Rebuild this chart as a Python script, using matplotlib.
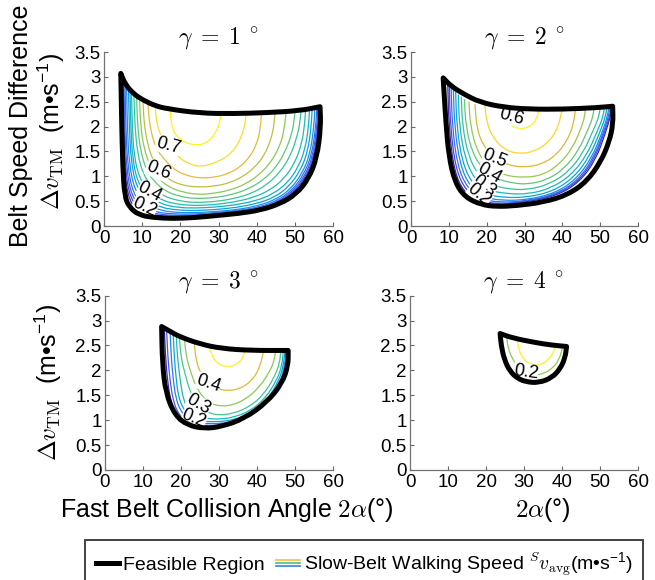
import numpy as np
import matplotlib
matplotlib.use('Agg')
import matplotlib.pyplot as plt
from matplotlib.path import Path
from matplotlib.patches import PathPatch
from matplotlib.colors import LinearSegmentedColormap, Normalize
from matplotlib.lines import Line2D
from matplotlib.legend_handler import HandlerBase

plt.rcParams['font.family'] = ['Liberation Sans', 'DejaVu Sans']
plt.rcParams['mathtext.fontset'] = 'cm'

# ---------------- data ----------------
# gamma = 1 deg
p1_top = [(4.4, 3.07), (5.5, 2.86), (7.7, 2.66), (10.3, 2.53), (13.4, 2.42), (16.4, 2.36),
          (25.1, 2.27), (33.8, 2.26), (42.6, 2.28), (51.3, 2.32), (56.6, 2.40)]
p1_low = [(56.6, 2.40), (56.8, 2.0), (55.8, 1.38), (53.6, 0.95), (50.3, 0.64), (46.2, 0.45),
          (41.0, 0.32), (35.0, 0.25), (29.3, 0.21), (24.0, 0.17), (18.0, 0.15), (13.0, 0.17),
          (9.2, 0.22), (6.6, 0.38), (5.4, 0.6), (4.9, 1.2), (4.6, 2.2), (4.4, 3.07)]
p1_levels = [0.05, 0.1, 0.15, 0.2, 0.25, 0.3, 0.35, 0.4, 0.45, 0.5, 0.55, 0.6, 0.65, 0.7, 0.75]
p1_lines = [
    [(4.8, 3.05), (5.0, 2.0), (5.4, 1.05), (6.6, 0.5), (9.4, 0.26), (13, 0.2), (18, 0.17), (24, 0.18), (29, 0.23),
     (35, 0.27), (41, 0.34), (46, 0.47), (49.9, 0.67), (53, 0.96), (55.2, 1.36), (56.2, 2.0), (56.6, 2.45)],
    [(5.0, 3.0), (5.2, 2.0), (5.6, 1.1), (6.9, 0.55), (9.8, 0.29), (13, 0.22), (18, 0.19), (24, 0.2), (29, 0.24),
     (35, 0.28), (41, 0.35), (45.8, 0.48), (49.7, 0.68), (52.8, 0.98), (55, 1.38), (56.0, 2.0), (56.4, 2.45)],
    [(5.2, 3.0), (5.4, 2.0), (5.9, 1.15), (7.2, 0.6), (10.2, 0.33), (13, 0.25), (18, 0.21), (24, 0.22), (29, 0.25),
     (35, 0.29), (41, 0.36), (45.6, 0.49), (49.5, 0.7), (52.6, 1.0), (54.7, 1.4), (55.8, 2.0), (56.1, 2.45)],
    [(5.5, 2.95), (5.7, 2.0), (6.2, 1.2), (7.6, 0.65), (10.6, 0.38), (13.5, 0.28), (18, 0.24), (24, 0.24), (29, 0.27),
     (35, 0.31), (40.7, 0.38), (45.4, 0.51), (49.3, 0.72), (52.3, 1.03), (54.4, 1.42), (55.5, 2.0), (55.8, 2.45)],
    [(5.9, 2.9), (6.1, 2.0), (6.6, 1.25), (8.0, 0.72), (10.95, 0.45), (14, 0.33), (18.5, 0.27), (24, 0.27), (29, 0.29),
     (35, 0.33), (40.5, 0.41), (45.2, 0.54), (49, 0.75), (52, 1.07), (54, 1.45), (55, 2.0), (55.3, 2.45)],
    [(6.4, 2.85), (6.6, 2.0), (7.1, 1.3), (8.4, 0.8), (11.3, 0.53), (14.5, 0.38), (19, 0.32), (24, 0.31), (29, 0.33),
     (34.5, 0.37), (40, 0.45), (44.8, 0.58), (48.5, 0.8), (51.5, 1.12), (53.4, 1.5), (54.3, 2.0), (54.6, 2.45)],
    [(6.8, 2.8), (7.0, 2.0), (7.5, 1.35), (8.8, 0.87), (11.65, 0.6), (15, 0.44), (19.5, 0.37), (24, 0.36), (29, 0.38),
     (34, 0.42), (39.5, 0.5), (44.2, 0.64), (48, 0.86), (50.9, 1.18), (52.7, 1.55), (53.6, 2.0), (53.9, 2.45)],
    [(7.2, 2.75), (7.4, 2.0), (7.9, 1.4), (9.3, 0.95), (12.0, 0.68), (15.5, 0.5), (20, 0.43), (24, 0.41), (29, 0.43),
     (34, 0.48), (39, 0.57), (43.5, 0.72), (47.2, 0.95), (50, 1.27), (51.8, 1.65), (52.6, 2.05), (52.9, 2.45)],
    [(7.8, 2.7), (8.1, 2.0), (8.8, 1.45), (10.3, 1.03), (12.55, 0.79), (15.5, 0.6), (20, 0.5), (24, 0.47), (29, 0.49),
     (34, 0.55), (38.5, 0.65), (42.5, 0.82), (46, 1.07), (48.8, 1.4), (50.6, 1.8), (51.4, 2.1), (51.7, 2.45)],
    [(8.5, 2.65), (8.8, 2.0), (9.6, 1.5), (11.1, 1.12), (13.1, 0.9), (16, 0.7), (20, 0.59), (24, 0.55), (29, 0.57),
     (33.5, 0.63), (38, 0.75), (41.8, 0.93), (45, 1.17), (47.5, 1.5), (49.2, 1.85), (49.9, 2.15), (50.1, 2.45)],
    [(9.3, 2.6), (9.6, 2.0), (10.5, 1.55), (12, 1.22), (13.65, 1.01), (16.5, 0.8), (20.5, 0.68), (25, 0.63), (29, 0.66),
     (33, 0.72), (37, 0.84), (40.5, 1.02), (43.5, 1.26), (45.8, 1.56), (47.2, 1.9), (47.9, 2.45)],
    [(10.2, 2.55), (10.5, 2.05), (11.5, 1.62), (12.8, 1.33), (14.2, 1.12), (17, 0.93), (20.5, 0.82), (24.5, 0.78),
     (29, 0.8), (33, 0.87), (36.5, 1.0), (39.5, 1.18), (42, 1.42), (43.8, 1.75), (44.6, 2.05), (44.9, 2.45)],
    [(11.5, 2.5), (11.9, 2.05), (13, 1.7), (14.2, 1.5), (15.5, 1.37), (18, 1.16), (21, 1.03), (25, 0.96), (29, 0.98),
     (32.5, 1.05), (35.5, 1.18), (38, 1.37), (39.9, 1.62), (41, 1.95), (41.4, 2.45)],
    [(13.3, 2.5), (13.8, 2.05), (15, 1.8), (16.8, 1.62), (19.5, 1.38), (22.5, 1.24), (25.5, 1.19), (29, 1.27),
     (32, 1.38), (34.5, 1.57), (36.2, 1.83), (37.1, 2.1), (37.4, 2.45)],
    [(17.2, 2.45), (17.6, 2.05), (18.5, 1.86), (19.5, 1.78), (21.5, 1.67), (24.3, 1.62), (26.8, 1.67), (28.8, 1.82),
     (30.3, 2.05), (31.1, 2.45)],
]
p1_labels = [('0.7', 16.8, 1.62, -15), ('0.6', 14.2, 1.12, -22), ('0.4', 12.0, 0.68, -28), ('0.2', 10.6, 0.38, -25)]

# gamma = 2 deg
p2_top = [(8.5, 2.98), (10.5, 2.82), (13.8, 2.66), (18.2, 2.49), (24.4, 2.39), (31.4, 2.35),
          (40.2, 2.35), (49.0, 2.38), (53.3, 2.41)]
p2_low = [(53.3, 2.41), (53.4, 2.05), (52.4, 1.7), (50.2, 1.3), (46.5, 0.9), (41.5, 0.63), (35.0, 0.48),
          (28.0, 0.41), (22.6, 0.39), (18.5, 0.43), (14.3, 0.58), (11.6, 0.88), (10.0, 1.4), (9.2, 2.1), (8.5, 2.98)]
p2_levels = [0.05, 0.1, 0.15, 0.2, 0.25, 0.3, 0.35, 0.4, 0.45, 0.5, 0.55, 0.6]
p2_lines = [
    [(9.7, 2.9), (10.0, 2.0), (11.4, 1.1), (14, 0.68), (18, 0.47), (23, 0.42), (31, 0.49), (38.5, 0.61), (44.5, 0.88),
     (48.8, 1.33), (51.3, 1.85), (52.7, 2.2), (53.2, 2.45)],
    [(10.1, 2.85), (10.4, 2.0), (11.8, 1.15), (14.4, 0.72), (18.4, 0.5), (23.5, 0.44), (31, 0.5), (38.5, 0.63),
     (44.3, 0.9), (48.5, 1.35), (51, 1.86), (52.5, 2.2), (53.0, 2.45)],
    [(10.6, 2.8), (10.9, 2.0), (12.3, 1.2), (14.9, 0.76), (18.8, 0.54), (23.5, 0.47), (31, 0.51), (38.3, 0.64),
     (44, 0.91), (48.2, 1.36), (50.8, 1.87), (52.2, 2.2), (52.7, 2.45)],
    [(11.2, 2.75), (11.5, 2.0), (12.9, 1.25), (15.4, 0.81), (19.2, 0.58), (24, 0.51), (31, 0.53), (38, 0.66),
     (43.5, 0.93), (47.8, 1.37), (50.5, 1.88), (51.9, 2.2), (52.4, 2.45)],
    [(11.8, 2.7), (12.1, 2.0), (13.5, 1.3), (16, 0.87), (19.8, 0.64), (24.5, 0.57), (31, 0.58), (37.5, 0.7),
     (43, 0.97), (47.2, 1.4), (50, 1.9), (51.4, 2.2), (51.9, 2.45)],
    [(12.5, 2.65), (12.8, 2.0), (14.3, 1.35), (16.8, 0.94), (20.5, 0.72), (25, 0.65), (31, 0.64), (37, 0.76),
     (42.3, 1.02), (46.5, 1.43), (49.3, 1.92), (50.8, 2.2), (51.2, 2.45)],
    [(13.3, 2.6), (13.6, 2.0), (15.2, 1.4), (17.8, 1.02), (21.5, 0.82), (26, 0.74), (31, 0.73), (36.5, 0.84),
     (41.5, 1.08), (45.5, 1.47), (48.3, 1.95), (49.7, 2.2), (50.1, 2.45)],
    [(14.1, 2.55), (14.5, 2.0), (16.3, 1.45), (19, 1.15), (22.5, 0.95), (27, 0.86), (31, 0.84), (36, 0.93),
     (40.5, 1.15), (44.3, 1.52), (47, 1.98), (48.1, 2.2), (48.5, 2.45)],
    [(15.3, 2.5), (15.7, 2.0), (17.5, 1.5), (20.5, 1.17), (24.5, 1.02), (30, 0.97), (35, 1.03), (39.2, 1.24),
     (42.8, 1.58), (45.1, 2.0), (45.9, 2.2), (46.2, 2.45)],
    [(16.9, 2.45), (17.4, 1.95), (19.2, 1.6), (22.2, 1.35), (26, 1.22), (30, 1.18), (34.5, 1.24), (38.3, 1.42),
     (41.3, 1.72), (43, 2.05), (43.6, 2.45)],
    [(19.4, 2.55), (19.9, 2.1), (21.8, 1.75), (25, 1.52), (28.8, 1.45), (32.5, 1.5), (36.2, 1.67), (38.9, 1.97),
     (40.2, 2.45)],
    [(23.6, 2.45), (24.5, 2.2), (26.5, 2.01), (29, 1.95), (31.5, 2.0), (33.3, 2.15), (34.1, 2.45)],
]
p2_labels = [('0.6', 26.6, 2.2, -15), ('0.5', 22.2, 1.35, -22), ('0.4', 20.7, 1.05, -30),
             ('0.3', 19.3, 0.8, -38), ('0.2', 18.0, 0.63, -40)]

# gamma = 3 deg
p3_top = [(14.9, 2.88), (17.0, 2.79), (19.5, 2.68), (25.0, 2.53), (30.6, 2.44), (38.3, 2.40), (48.2, 2.40)]
p3_low = [(48.2, 2.40), (48.2, 2.1), (46.6, 1.74), (42.6, 1.36), (36.6, 1.03), (30.6, 0.87), (26.1, 0.83),
          (21.7, 0.9), (18.4, 1.1), (16.0, 1.54), (15.1, 2.14), (14.9, 2.88)]
p3_levels = [0.05, 0.1, 0.15, 0.2, 0.25, 0.3, 0.35, 0.4, 0.45]
p3_lines = [
    [(15.6, 2.88), (15.9, 2.3), (16.5, 1.75), (17.4, 1.35), (18.9, 1.08), (21, 0.95), (23.5, 0.89), (26.3, 0.86),
     (30.3, 0.88), (34, 0.94), (38.8, 1.07), (43.8, 1.34), (46.8, 1.72), (47.8, 2.1), (48.2, 2.45)],
    [(16.2, 2.87), (16.5, 2.3), (17.1, 1.8), (17.9, 1.4), (19.3, 1.12), (21.3, 0.98), (23.7, 0.92), (26.4, 0.89),
     (30.3, 0.9), (34, 0.96), (38.7, 1.09), (43.4, 1.36), (46.5, 1.74), (47.6, 2.1), (48.0, 2.45)],
    [(17.1, 2.85), (17.4, 2.3), (17.9, 1.85), (18.6, 1.45), (19.9, 1.18), (21.8, 1.03), (24, 0.96), (26.6, 0.93),
     (30.3, 0.93), (34, 0.98), (38.6, 1.11), (43.0, 1.38), (46.1, 1.76), (47.3, 2.1), (47.7, 2.45)],
    [(17.9, 2.84), (18.2, 2.3), (18.7, 1.85), (19.3, 1.48), (20.6, 1.22), (22.4, 1.08), (24.5, 1.0), (26.8, 0.97),
     (30.3, 0.97), (34, 1.01), (38.5, 1.14), (42.6, 1.4), (45.7, 1.78), (47, 2.1), (47.4, 2.45)],
    [(18.7, 2.82), (19.0, 2.3), (19.8, 1.8), (20.6, 1.41), (22, 1.2), (24.1, 1.09), (27, 1.03), (30.3, 1.02),
     (34, 1.06), (38.3, 1.19), (42.2, 1.44), (45.2, 1.8), (46.6, 2.1), (47.0, 2.45)],
    [(19.5, 2.8), (19.9, 2.3), (21, 1.94), (22.8, 1.47), (25.9, 1.2), (28, 1.13), (30.3, 1.1), (34, 1.14),
     (38, 1.27), (41.6, 1.5), (44.5, 1.85), (46, 2.15), (46.3, 2.45)],
    [(20.8, 2.75), (21.3, 2.3), (22.4, 2.0), (23.8, 1.7), (25.8, 1.45), (28, 1.33), (30.5, 1.28), (33.5, 1.3),
     (37, 1.42), (40.5, 1.65), (43.3, 1.97), (44.6, 2.2), (44.9, 2.45)],
    [(23.4, 2.65), (23.9, 2.2), (25.3, 1.92), (27.5, 1.73), (30, 1.62), (32.5, 1.59), (35.5, 1.63), (38.5, 1.78),
     (40.8, 2.05), (42.0, 2.5)],
    [(27.3, 2.6), (27.8, 2.35), (29.3, 2.14), (32.2, 2.06), (35, 2.13), (36.7, 2.3), (37.3, 2.6)],
]
p3_labels = [('0.4', 27.3, 1.74, -18), ('0.3', 24.6, 1.31, -30), ('0.2', 23.4, 1.03, -22)]

# gamma = 4 deg
p4_top = [(23.7, 2.74), (27.0, 2.65), (32.9, 2.56), (37.0, 2.51), (41.2, 2.48)]
p4_low = [(41.2, 2.48), (40.8, 2.25), (39.5, 2.03), (37.3, 1.85), (33.8, 1.75), (30.5, 1.77), (28.3, 1.84),
          (26.3, 1.98), (24.8, 2.22), (24.0, 2.5), (23.7, 2.74)]
p4_levels = [0.2, 0.25]
p4_lines = [
    [(25.3, 2.75), (25.8, 2.45), (26.8, 2.25), (28.5, 2.05), (30.7, 1.93), (32.9, 1.9), (35.3, 1.94),
     (37.3, 2.03), (39.2, 2.2), (40.3, 2.5)],
    [(28.1, 2.7), (28.6, 2.4), (30.0, 2.2), (32.2, 2.11), (34.2, 2.11), (36.3, 2.2), (37.9, 2.38), (38.7, 2.6)],
]
p4_labels = [('0.2', 30.5, 1.97, -8)]

x_ticks = [0, 10, 20, 30, 40, 50, 60]
y_ticks = [0, 0.5, 1, 1.5, 2, 2.5, 3, 3.5]
y_ticklabels = ['0', '0.5', '1', '1.5', '2', '2.5', '3', '3.5']
gammas = [1, 2, 3, 4]

# MATLAB parula-like colormap
parula = LinearSegmentedColormap.from_list('parula', [
    (0.00, (0.24, 0.15, 0.66)), (0.13, (0.28, 0.33, 0.96)), (0.25, (0.13, 0.50, 0.93)),
    (0.38, (0.05, 0.64, 0.86)), (0.50, (0.10, 0.73, 0.72)), (0.62, (0.25, 0.78, 0.57)),
    (0.75, (0.55, 0.79, 0.33)), (0.87, (0.85, 0.73, 0.20)), (0.93, (0.99, 0.73, 0.24)),
    (1.00, (0.98, 0.96, 0.10))])


def smooth(pts):
    pts = np.asarray(pts, float)
    verts = [pts[0], (pts[0] + pts[1]) / 2]
    codes = [Path.MOVETO, Path.LINETO]
    for i in range(1, len(pts) - 1):
        verts += [pts[i], (pts[i] + pts[i + 1]) / 2]
        codes += [Path.CURVE3, Path.CURVE3]
    verts.append(pts[-1])
    codes.append(Path.LINETO)
    return verts, codes


def draw_panel(ax, top, low, levels, lines, labels, vmin, vmax, gamma):
    v1, c1 = smooth(top)
    v2, c2 = smooth(low)
    c2[0] = Path.LINETO
    region = Path(v1 + v2 + [v1[0]], c1 + c2 + [Path.CLOSEPOLY])
    border = PathPatch(region, fill=False, ec='k', lw=3.6, joinstyle='round', zorder=5)
    ax.add_patch(border)

    norm = Normalize(vmin, vmax)
    for lev, pts in zip(levels, lines):
        v, c = smooth(pts)
        line = PathPatch(Path(v, c), fill=False, ec=parula(norm(lev)), lw=0.9, zorder=2)
        ax.add_patch(line)
        line.set_clip_path(border)

    for txt, x, y, rot in labels:
        ax.text(x, y, txt, fontsize=13, rotation=rot, ha='center', va='center', zorder=4,
                bbox=dict(boxstyle='square,pad=0.0', fc='white', ec='none'))

    ax.set_xlim(0, 60)
    ax.set_ylim(0, 3.5)
    ax.set_xticks(x_ticks)
    ax.set_yticks(y_ticks)
    ax.set_yticklabels(y_ticklabels)
    ax.tick_params(direction='in', length=3, width=0.8, color='0.4', labelsize=13.5)
    ax.tick_params(axis='x', pad=3)
    ax.tick_params(axis='y', pad=2.5)
    for s in ['top', 'right']:
        ax.spines[s].set_visible(False)
    for s in ['left', 'bottom']:
        ax.spines[s].set_color('0.45')
        ax.spines[s].set_linewidth(0.9)
    ax.set_title(r'$\gamma\;=\;%d\;^\circ$' % gamma, fontsize=17, pad=6)


class Stack:
    def __init__(self, colors):
        self.colors = colors


class StackHandler(HandlerBase):
    def create_artists(self, legend, orig_handle, xdescent, ydescent, width, height, fontsize, trans):
        arts = []
        for i, c in enumerate(orig_handle.colors):
            y = height * (0.72 - 0.22 * i) - ydescent
            arts.append(Line2D([-xdescent, width - xdescent], [y, y], color=c, lw=1.2, transform=trans))
        return arts


fig = plt.figure(figsize=(6.55, 5.8), dpi=100)
ax1 = fig.add_axes([0.1588, 0.6103, 0.3496, 0.300])
ax2 = fig.add_axes([0.6275, 0.6103, 0.3466, 0.300])
ax3 = fig.add_axes([0.1603, 0.1897, 0.3481, 0.3005])
ax4 = fig.add_axes([0.6260, 0.1897, 0.3481, 0.3005])

draw_panel(ax1, p1_top, p1_low, p1_levels, p1_lines, p1_labels, 0.05, 0.72, gammas[0])
draw_panel(ax2, p2_top, p2_low, p2_levels, p2_lines, p2_labels, 0.05, 0.57, gammas[1])
draw_panel(ax3, p3_top, p3_low, p3_levels, p3_lines, p3_labels, 0.05, 0.45, gammas[2])
draw_panel(ax4, p4_top, p4_low, p4_levels, p4_lines, p4_labels, 0.05, 0.25, gammas[3])

unit = r'$\Delta v_{\rm TM}$  (m•s$\mathregular{^{-1}}$)'
fig.text(0.032, 0.784, 'Belt Speed Difference', rotation=90, fontsize=18, ha='center', va='center')
fig.text(0.079, 0.774, unit, rotation=90, fontsize=18, ha='center', va='center')
fig.text(0.073, 0.34, unit, rotation=90, fontsize=18, ha='center', va='center')
fig.text(0.347, 0.121, r'Fast Belt Collision Angle $2\alpha$(°)', fontsize=18, ha='center', va='center')
fig.text(0.829, 0.121, r'$2\alpha$(°)', fontsize=18, ha='center', va='center')

h1 = Line2D([], [], color='k', lw=3.6)
h2 = Stack([(0.99, 0.73, 0.24), (0.25, 0.75, 0.55), (0.2, 0.5, 0.9)])
leg = fig.legend([h1, h2], ['Feasible Region',
                            r'Slow-Belt Walking Speed ${}^{S}v_{\rm avg}$(m•s$\mathregular{^{-1}}$)'],
                 handler_map={Stack: StackHandler()}, loc='upper center',
                 bbox_to_anchor=(0.556, 0.069), ncol=2, fontsize=14, frameon=True, fancybox=False,
                 edgecolor='k', handlelength=1.2, handletextpad=0.2, columnspacing=0.6,
                 borderpad=0.55, borderaxespad=0)
leg.get_frame().set_linewidth(1.3)

fig.savefig('out.png', dpi=100)
